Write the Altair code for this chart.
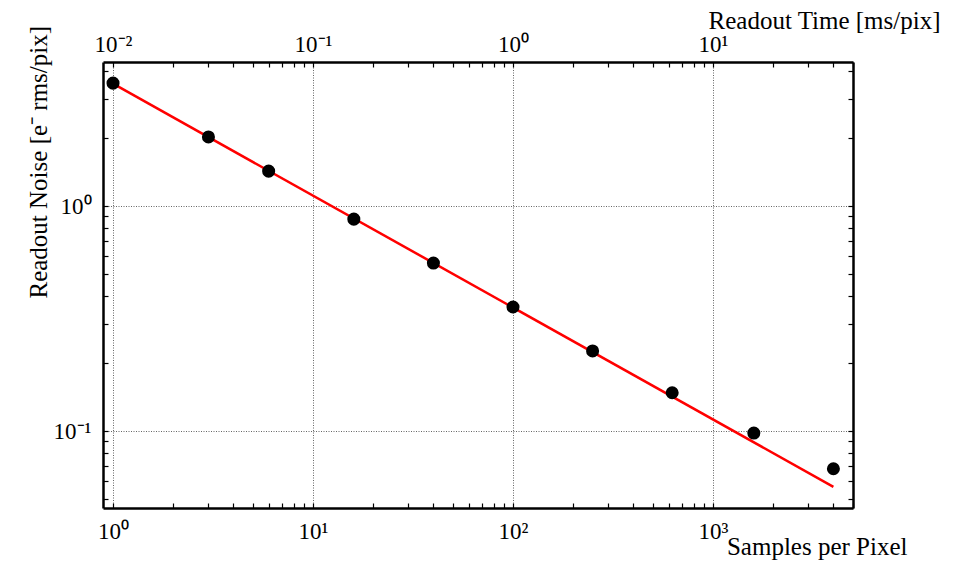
import altair as alt
import pandas as pd

# data
samples = [1, 3, 6, 16, 40, 100, 250, 625, 1600, 4000]
noise = [3.52, 2.03, 1.43, 0.875, 0.558, 0.356, 0.227, 0.148, 0.098, 0.068]
fit_samples = [1, 4000]
fit_noise = [3.5, 0.0565]
ms_per_sample = 0.01

x_ticks = [1, 2, 3, 4, 5, 6, 7, 8, 9,
           10, 20, 30, 40, 50, 60, 70, 80, 90,
           100, 200, 300, 400, 500, 600, 700, 800, 900,
           1000, 2000, 3000, 4000, 5000]
t_ticks = [v * ms_per_sample for v in x_ticks]
y_ticks = [0.05, 0.06, 0.07, 0.08, 0.09,
           0.1, 0.2, 0.3, 0.4, 0.5, 0.6, 0.7, 0.8, 0.9,
           1, 2, 3, 4]

x_dom = [0.891, 5012]
t_dom = [x_dom[0] * ms_per_sample, x_dom[1] * ms_per_sample]
y_dom = [0.0455, 4.37]

pts = pd.DataFrame({"samples": samples, "noise": noise})
pts["time"] = pts["samples"] * ms_per_sample
fit = pd.DataFrame({"samples": fit_samples, "noise": fit_noise})

FONT = "Liberation Serif"
is_dec = "abs(log(datum.value)/LN10 - round(log(datum.value)/LN10)) < 0.001"
lab = ("(" + is_dec + ") ? '10' + (round(log(datum.value)/LN10) < 0 ? '\u207b' : '') + "
       "['\u2070','\u00b9','\u00b2','\u00b3','\u2074'][abs(round(log(datum.value)/LN10))] : ''")

common = dict(
    labelFont=FONT, labelFontSize=23, labelColor="black",
    labelOverlap=False, labelFlush=False, labelBound=False,
    domainColor="black", domainWidth=2.5,
    tickColor="black", tickWidth=1.2, tickSize={"expr": "-5"},
    titleFont=FONT, titleFontSize=25, titleFontWeight="normal", titleColor="black",
)
grid = dict(grid=True, gridColor="#555", gridDash=[1, 1.5], gridWidth=0.9,
            gridOpacity={"condition": {"test": is_dec, "value": 1}, "value": 0})

xs = alt.Scale(type="log", domain=x_dom, nice=False)
ys = alt.Scale(type="log", domain=y_dom, nice=False)
ts = alt.Scale(type="log", domain=t_dom, nice=False)

x_axis = alt.Axis(values=x_ticks, labelExpr=lab, labelPadding=17,
                  title="Samples per Pixel", titleX=804, titleY=38,
                  titleAlign="right", titleBaseline="middle", titleAnchor="start",
                  **grid, **common)
y_axis = alt.Axis(values=y_ticks, labelExpr=lab, labelPadding=17,
                  title="Readout Noise [e\u207b rms/pix]", titleX=-65, titleY=236,
                  titleAngle=270, titleAlign="left", titleBaseline="middle",
                  titleAnchor="start",
                  **grid, **common)
t_axis = alt.Axis(values=t_ticks, labelExpr=lab, labelPadding=11, orient="top",
                  title="Readout Time [ms/pix]", titleX=837, titleY=-42,
                  titleAlign="right", titleBaseline="middle", titleAnchor="start",
                  grid=False, **common)
r_axis = alt.Axis(values=y_ticks, orient="right", labels=False, title=None,
                  grid=False, **common)

points = alt.Chart(pts).mark_circle(size=170, color="black", opacity=1).encode(
    x=alt.X("samples:Q", scale=xs, axis=x_axis),
    y=alt.Y("noise:Q", scale=ys, axis=y_axis),
)
line = alt.Chart(fit).mark_line(color="#ff0000", strokeWidth=2.5).encode(
    x=alt.X("samples:Q", scale=xs, axis=None),
    y=alt.Y("noise:Q", scale=ys, axis=None),
)
top = alt.Chart(pts).mark_circle(opacity=0).encode(
    x=alt.X("time:Q", scale=ts, axis=t_axis),
    y=alt.Y("noise:Q", scale=ys, axis=None),
)
right = alt.Chart(pts).mark_circle(opacity=0).encode(
    x=alt.X("samples:Q", scale=xs, axis=None),
    y=alt.Y("noise:Q", scale=ys, axis=r_axis),
)

chart = alt.layer(line, points, top, right).resolve_scale(
    x="independent", y="independent"
).properties(
    width=750, height=446,
    autosize=alt.AutoSizeParams(type="none"),
    padding={"left": 95, "top": 54, "right": 94, "bottom": 54},
).configure_view(stroke=None)

chart.save("out.html", embed_options={"renderer": "svg", "actions": False})
